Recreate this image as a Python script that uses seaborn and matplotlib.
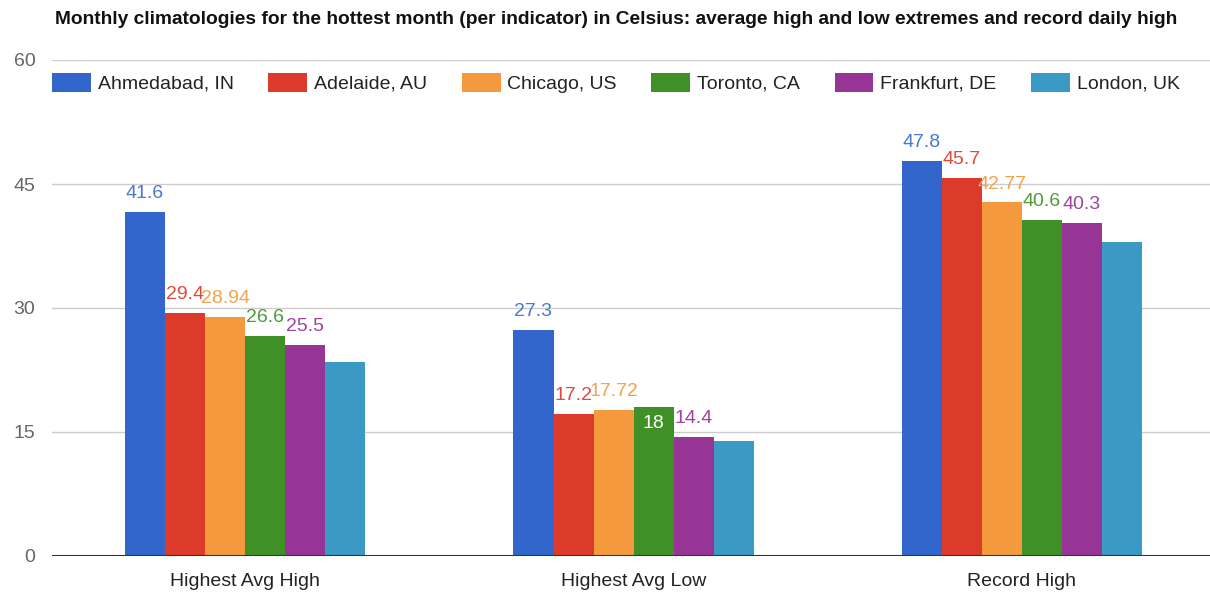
import matplotlib
matplotlib.use("Agg")
import matplotlib.pyplot as plt
import seaborn as sns
import pandas as pd

# values
indicators = ["Highest Avg High", "Highest Avg Low", "Record High"]
cities = ["Ahmedabad, IN", "Adelaide, AU", "Chicago, US", "Toronto, CA", "Frankfurt, DE", "London, UK"]
ahmedabad = [41.6, 27.3, 47.8]
adelaide = [29.4, 17.2, 45.7]
chicago = [28.94, 17.72, 42.77]
toronto = [26.6, 18, 40.6]
frankfurt = [25.5, 14.4, 40.3]
london = [23.5, 13.9, 38.0]
label_text = [
    ["41.6", "27.3", "47.8"],
    ["29.4", "17.2", "45.7"],
    ["28.94", "17.72", "42.77"],
    ["26.6", "18", "40.6"],
    ["25.5", "14.4", "40.3"],
    [None, None, None],
]
yticks = [0, 15, 30, 45, 60]
colors = ["#3366cc", "#dc3a2b", "#f4993d", "#3f9127", "#973597", "#3b99c5"]
text_colors = ["#4a79d4", "#e04a3a", "#f5a24c", "#4f9a37", "#a043a0", "#4aa2cc"]
title = ("Monthly climatologies for the hottest month (per indicator) in Celsius: "
         "average high and low extremes and record daily high")

series = [ahmedabad, adelaide, chicago, toronto, frankfurt, london]
rows = []
for city, vals in zip(cities, series):
    for ind, v in zip(indicators, vals):
        rows.append({"indicator": ind, "city": city, "value": v})
df = pd.DataFrame(rows)

sns.set_style("white")
plt.rcParams["font.family"] = ["Liberation Sans", "DejaVu Sans"]

fig = plt.figure(figsize=(12.1, 5.93), dpi=100)
ax = fig.add_axes([52 / 1210, 1 - 556 / 593, 1158 / 1210, 496 / 593])

sns.barplot(data=df, x="indicator", y="value", hue="city", order=indicators,
            hue_order=cities, palette=colors, width=0.618, gap=0,
            edgecolor="none", linewidth=0, saturation=1, ax=ax, legend=True)

ax.set_xlim(-0.497, 2.484)
ax.set_ylim(0, 60)
ax.set_yticks(yticks)
ax.set_yticklabels([str(t) for t in yticks])
ax.set_xlabel("")
ax.set_ylabel("")
for t in yticks[1:]:
    ax.axhline(t, color="#cccccc", lw=1, zorder=0)
ax.axhline(0, color="#333333", lw=1.5, zorder=3)
for s in ax.spines.values():
    s.set_visible(False)
ax.tick_params(axis="y", length=0, pad=12, labelsize=14, labelcolor="#666666")
ax.tick_params(axis="x", length=0, pad=12, labelsize=14, labelcolor="#222222")

# value labels
for ci, cont in enumerate(ax.containers):
    for bi, bar in enumerate(cont):
        txt = label_text[ci][bi]
        if txt is None:
            continue
        x = bar.get_x() + bar.get_width() / 2
        h = bar.get_height()
        if txt == "18":
            ax.text(x, h - 1.0, txt, ha="center", va="top", color="white", fontsize=14)
        else:
            ax.text(x, h + 1.2, txt, ha="center", va="bottom", color=text_colors[ci], fontsize=14)

handles, labels = ax.get_legend_handles_labels()
ax.legend(handles, labels, loc="upper left", bbox_to_anchor=(52 / 1210, 1 - 73 / 593),
          bbox_transform=fig.transFigure, ncol=6, frameon=False, fontsize=14,
          handlelength=2.0, handleheight=1.1, handletextpad=0.35,
          columnspacing=1.78, borderpad=0, borderaxespad=0, labelcolor="#222222")

fig.text(55 / 1210, 1 - 20 / 593, title, ha="left", va="center",
         fontsize=13.8, fontweight="bold", color="#111111")

fig.savefig("out.png", dpi=100)
